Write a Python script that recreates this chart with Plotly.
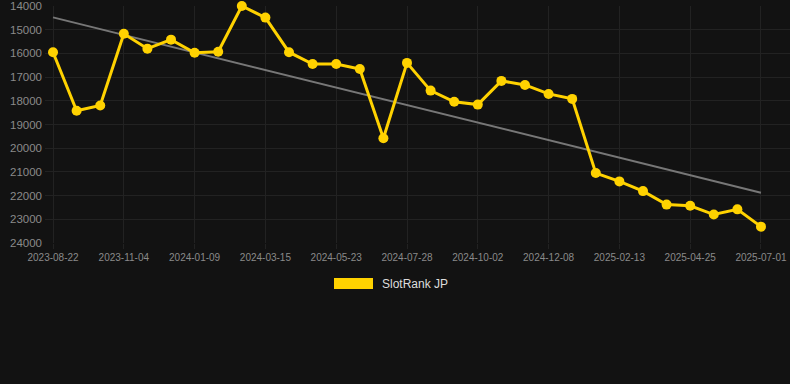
import plotly.graph_objects as go

dates = [
    "2023-08-22", "2023-09-16", "2023-10-10", "2023-11-04", "2023-11-26", "2023-12-18",
    "2024-01-09", "2024-01-31", "2024-02-22", "2024-03-15", "2024-04-07", "2024-04-30",
    "2024-05-23", "2024-06-14", "2024-07-06", "2024-07-28", "2024-08-19", "2024-09-10",
    "2024-10-02", "2024-10-24", "2024-11-15", "2024-12-08", "2024-12-30", "2025-01-21",
    "2025-02-13", "2025-03-08", "2025-04-01", "2025-04-25", "2025-05-17", "2025-06-08",
    "2025-07-01",
]
rank = [
    15950, 18420, 18200, 15170, 15800, 15420,
    15970, 15930, 14000, 14490, 15950, 16450,
    16450, 16660, 19580, 16400, 17570, 18040,
    18160, 17160, 17330, 17710, 17920, 21050,
    21400, 21810, 22380, 22430, 22800, 22580,
    23310,
]
trend_dates = [dates[0], dates[-1]]
trend_values = [14480, 21880]
tick_labels = dates[::3]
y_ticks = [14000, 15000, 16000, 17000, 18000, 19000, 20000, 21000, 22000, 23000, 24000]
series_name = "SlotRank JP"

gold = "#FFD200"
bg = "#121212"
grid = "#222222"
txt = "#8a8a8a"

fig = go.Figure()
fig.add_trace(go.Scatter(
    x=trend_dates, y=trend_values, mode="lines",
    line=dict(color="#777777", width=2), showlegend=False, hoverinfo="skip",
))
fig.add_trace(go.Scatter(
    x=dates, y=rank, mode="lines+markers", name=series_name,
    line=dict(color=gold, width=3), marker=dict(color=gold, size=10),
    cliponaxis=False, showlegend=False,
))

fig.update_layout(
    width=790, height=384,
    margin=dict(l=45, r=0, t=6, b=141),
    paper_bgcolor=bg, plot_bgcolor=bg,
    font=dict(family="Liberation Sans, Arial, sans-serif", color=txt),
    showlegend=False,
)
fig.update_xaxes(
    type="category", categoryorder="array", categoryarray=dates,
    range=[-0.34, len(dates) - 1 + 1.23],
    tickvals=tick_labels, ticktext=tick_labels,
    tickfont=dict(size=10, color=txt),
    showgrid=True, gridcolor=grid, gridwidth=1,
    ticks="outside", ticklen=5, tickcolor=grid,
    showline=False, zeroline=False,
)
fig.update_yaxes(
    range=[24000, 14000], tickvals=y_ticks, tickformat="d",
    tickfont=dict(size=11.5, color=txt),
    showgrid=True, gridcolor=grid, gridwidth=1,
    zeroline=False, showline=False, ticks="", ticklabelstandoff=2,
)

# legend drawn as a swatch + text
fig.add_shape(type="rect", xref="paper", yref="paper",
              x0=(334 - 45) / 745, x1=(373 - 45) / 745,
              y0=(384 - 141 - 289) / 237, y1=(384 - 141 - 278) / 237,
              fillcolor=gold, line=dict(width=0))
fig.add_annotation(xref="paper", yref="paper",
                   x=(380 - 45) / 745, y=(384 - 141 - 284) / 237,
                   text=series_name, showarrow=False, xanchor="left", yanchor="middle",
                   font=dict(size=12, color="#dddddd"))

fig.write_html(
    "out.html",
    config={"displayModeBar": False},
    post_script="document.body.style.margin='0';document.body.style.background='#121212';",
)
